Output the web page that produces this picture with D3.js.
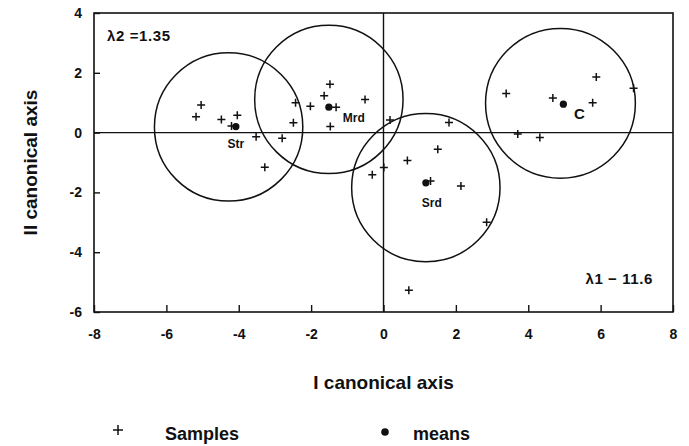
<!DOCTYPE html>
<html>
<head>
<meta charset="utf-8">
<script src="https://cdn.jsdelivr.net/npm/d3@7"></script>
<style>
  body { margin: 0; background: #fff; }
  svg text { font-family: "Liberation Sans", Arial, sans-serif; font-weight: bold; fill: #111; }
</style>
</head>
<body>
<div id="chart"></div>
<script>
// samples (crosses)
var sampleX = [-5.04, -5.18, -4.48, -4.04, -4.2, -3.52, -2.80, -3.28, -2.49, -2.43,
               -1.48, -1.64, -0.51, -2.02, -1.47, -1.31, 0.18,
               1.81, 1.50, 0.66, 0.01, -0.31, 1.30, 2.14, 2.85, 0.70,
               3.39, 4.68, 5.88, 5.78, 6.91, 3.71, 4.32];
var sampleY = [0.92, 0.53, 0.44, 0.58, 0.22, -0.14, -0.19, -1.16, 0.33, 1.00,
               1.62, 1.23, 1.11, 0.88, 0.20, 0.85, 0.42,
               0.34, -0.56, -0.93, -1.17, -1.41, -1.62, -1.79, -3.00, -5.27,
               1.31, 1.16, 1.86, 1.00, 1.48, -0.05, -0.16];

// group means and circles
var groups = ["Str", "Mrd", "Srd", "C"];
var meanX = [-4.08, -1.51, 1.17, 4.97];
var meanY = [0.20, 0.85, -1.68, 0.95];
var circleX = [-4.28, -1.51, 1.17, 4.89];
var circleY = [0.19, 1.11, -1.84, 0.98];
var circleR = [2.05, 2.05, 2.05, 2.07];

var xTicks = [-8, -6, -4, -2, 0, 2, 4, 6, 8];
var yTicks = [4, 2, 0, -2, -4, -6];

var width = 689, height = 446;
var margin = { top: 13, right: 16, bottom: 134, left: 94 };

var svg = d3.select("#chart").append("svg")
    .attr("width", width).attr("height", height);

var x = d3.scaleLinear().domain([-8, 8]).range([margin.left, width - margin.right]);
var y = d3.scaleLinear().domain([-6, 4]).range([height - margin.bottom, margin.top]);

// frame
svg.append("rect")
    .attr("x", x(-8)).attr("y", y(4))
    .attr("width", x(8) - x(-8)).attr("height", y(-6) - y(4))
    .attr("fill", "none").attr("stroke", "#111").attr("stroke-width", 1.6);

// zero lines
svg.append("line").attr("x1", x(-8)).attr("x2", x(8)).attr("y1", y(0)).attr("y2", y(0))
    .attr("stroke", "#111").attr("stroke-width", 1.4);
svg.append("line").attr("x1", x(0)).attr("x2", x(0)).attr("y1", y(4)).attr("y2", y(-6))
    .attr("stroke", "#111").attr("stroke-width", 1.4);

// axes with inward ticks, plain hyphen for negatives
var fmt = function(d) { return String(d); };
var xAxis = svg.append("g").attr("transform", "translate(0," + y(-6) + ")")
    .call(d3.axisBottom(x).tickValues(xTicks).tickFormat(fmt).tickSizeInner(-7).tickSizeOuter(0).tickPadding(17));
var yAxis = svg.append("g").attr("transform", "translate(" + x(-8) + ",0)")
    .call(d3.axisLeft(y).tickValues(yTicks).tickFormat(fmt).tickSizeInner(-6).tickSizeOuter(0).tickPadding(12));
[xAxis, yAxis].forEach(function(a) {
    a.select(".domain").remove();
    a.selectAll(".tick line").attr("stroke", "#111").attr("stroke-width", 1.4);
    a.selectAll(".tick text").attr("font-size", 14).attr("fill", "#111")
        .style("font-family", "Liberation Sans, Arial, sans-serif").style("font-weight", "bold");
});

// circles (round on the page)
var px = x(1) - x(0);
svg.selectAll("circle.grp").data(groups).enter().append("circle")
    .attr("class", "grp")
    .attr("cx", function(d, i) { return x(circleX[i]); })
    .attr("cy", function(d, i) { return y(circleY[i]); })
    .attr("r", function(d, i) { return circleR[i] * px; })
    .attr("fill", "none").attr("stroke", "#111").attr("stroke-width", 1.5);

// sample crosses
var cs = 4;
svg.selectAll("path.sample").data(sampleX).enter().append("path")
    .attr("class", "sample")
    .attr("d", function(d, i) {
        var cx = x(d), cy = y(sampleY[i]);
        return "M" + (cx - cs) + "," + cy + "H" + (cx + cs) + "M" + cx + "," + (cy - cs) + "V" + (cy + cs);
    })
    .attr("stroke", "#111").attr("stroke-width", 1.5).attr("fill", "none");

// means
svg.selectAll("circle.mean").data(groups).enter().append("circle")
    .attr("class", "mean")
    .attr("cx", function(d, i) { return x(meanX[i]); })
    .attr("cy", function(d, i) { return y(meanY[i]); })
    .attr("r", 3.6).attr("fill", "#111");

// group labels, offset from their means
var labelDx = [0, 25, 6, 16], labelDy = [21, 15, 24, 15], labelSize = [12, 12, 12, 15];
svg.selectAll("text.grp").data(groups).enter().append("text")
    .attr("class", "grp")
    .attr("x", function(d, i) { return x(meanX[i]) + labelDx[i]; })
    .attr("y", function(d, i) { return y(meanY[i]) + labelDy[i]; })
    .attr("text-anchor", "middle")
    .attr("font-size", function(d, i) { return labelSize[i]; })
    .text(function(d) { return d; });

// eigenvalues
svg.append("text").attr("x", x(-8) + 13).attr("y", y(4) + 28)
    .attr("font-size", 15).attr("letter-spacing", 0.6).text("λ2 =1.35");
svg.append("text").attr("x", x(8) - 20).attr("y", y(-6) - 28)
    .attr("text-anchor", "end").attr("font-size", 15).attr("letter-spacing", 0.6).text("λ1 − 11.6");

// axis titles
svg.append("text").attr("x", x(0)).attr("y", 389)
    .attr("text-anchor", "middle").attr("font-size", 19).text("I canonical axis");
svg.append("text").attr("transform", "translate(37," + y(-1) + ") rotate(-90)")
    .attr("text-anchor", "middle").attr("font-size", 19).text("II canonical axis");

// legend
svg.append("path")
    .attr("d", "M113,430H123M118,425V435")
    .attr("stroke", "#111").attr("stroke-width", 1.5);
svg.append("text").attr("x", 165).attr("y", 440).attr("font-size", 18).text("Samples");
svg.append("circle").attr("cx", 385).attr("cy", 432).attr("r", 3.8).attr("fill", "#111");
svg.append("text").attr("x", 413).attr("y", 440).attr("font-size", 18).text("means");
</script>
</body>
</html>
